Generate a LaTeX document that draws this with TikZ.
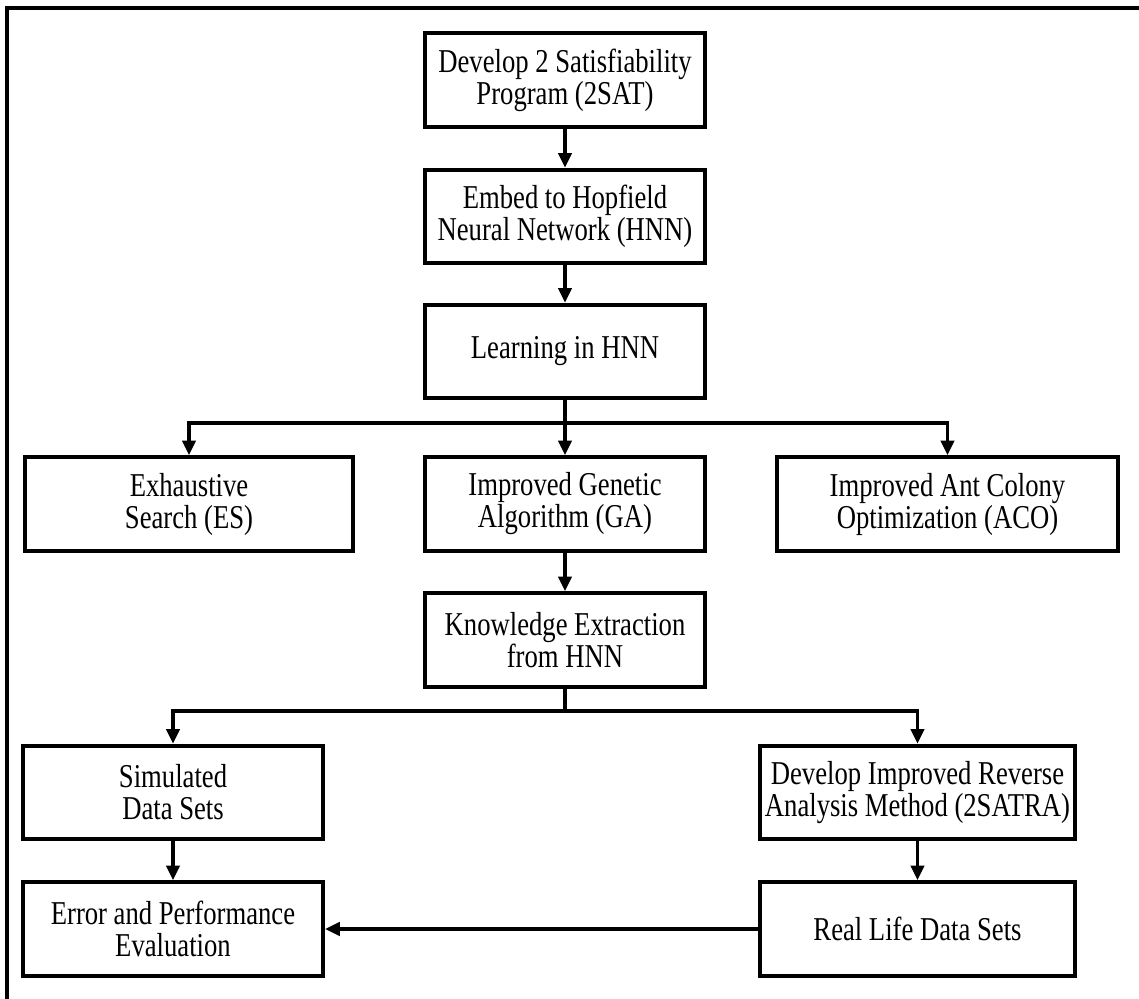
\documentclass[tikz,border=0pt]{standalone}
\usepackage{fontspec}
\setmainfont{Liberation Serif}[FakeStretch=0.8]
\usetikzlibrary{arrows.meta}
\tikzset{
	box/.style={draw, line width=3.2pt, align=center, minimum height=70pt, inner sep=1pt,
		font=\fontsize{25}{24}\selectfont},
	arr/.style={line width=2.6pt, -{Triangle[length=11pt, width=10pt]}},
	ln/.style={line width=2.6pt}
}

\begin{document}
\begin{tikzpicture}[x=0.75pt, y=-0.75pt]
		\useasboundingbox(0, 0)rectangle(1139, 999);
		\draw[line width=3pt](7, 1010)--(7, 8)--(1150, 8);
		\node[box, minimum width=210pt](sat)at(565, 80){Develop 2 Satisfiability\\Program (2SAT)};
		\node[box, minimum width=210pt](hnn)at(565, 216.5){Embed to Hopfield\\Neural Network (HNN)};
		\node[box, minimum width=210pt](learn)at(565, 351.5){Learning in HNN};
		\node[box, minimum width=246pt](es)at(189, 504){Exhaustive\\Search (ES)};
		\node[box, minimum width=210pt](ga)at(565, 504){Improved Genetic\\Algorithm (GA)};
		\node[box, minimum width=256pt](aco)at(947.5, 504){Improved Ant Colony\\Optimization (ACO)};
		\node[box, minimum width=210pt](ke)at(565, 640){Knowledge Extraction\\from HNN};
		\node[box, minimum width=225pt](sim)at(173, 792.5){Simulated\\Data Sets};
		\node[box, minimum width=225pt](err)at(173, 929){Error and Performance\\Evaluation};
		\node[box, minimum width=236pt](rev)at(917.5, 792.5){Develop Improved Reverse\\Analysis Method (2SATRA)};
		\node[box, minimum width=236pt](real)at(917.5, 929){Real Life Data Sets};
		\coordinate(j1)at(565, 423);
		\coordinate(j2)at(565, 711);
		\draw[arr](sat)--(hnn);
		\draw[arr](hnn)--(learn);
		\draw[ln](learn)--(j1);
		\draw[arr](j1)-|(es);
		\draw[arr](j1)--(ga);
		\draw[arr](j1)-|(aco);
		\draw[arr](ga)--(ke);
		\draw[ln](ke)--(j2);
		\draw[arr](j2)-|(sim);
		\draw[arr](j2)-|(rev);
		\draw[arr](sim)--(err);
		\draw[arr](rev)--(real);
		\draw[arr](real)--(err);
	\end{tikzpicture}
\end{document}
